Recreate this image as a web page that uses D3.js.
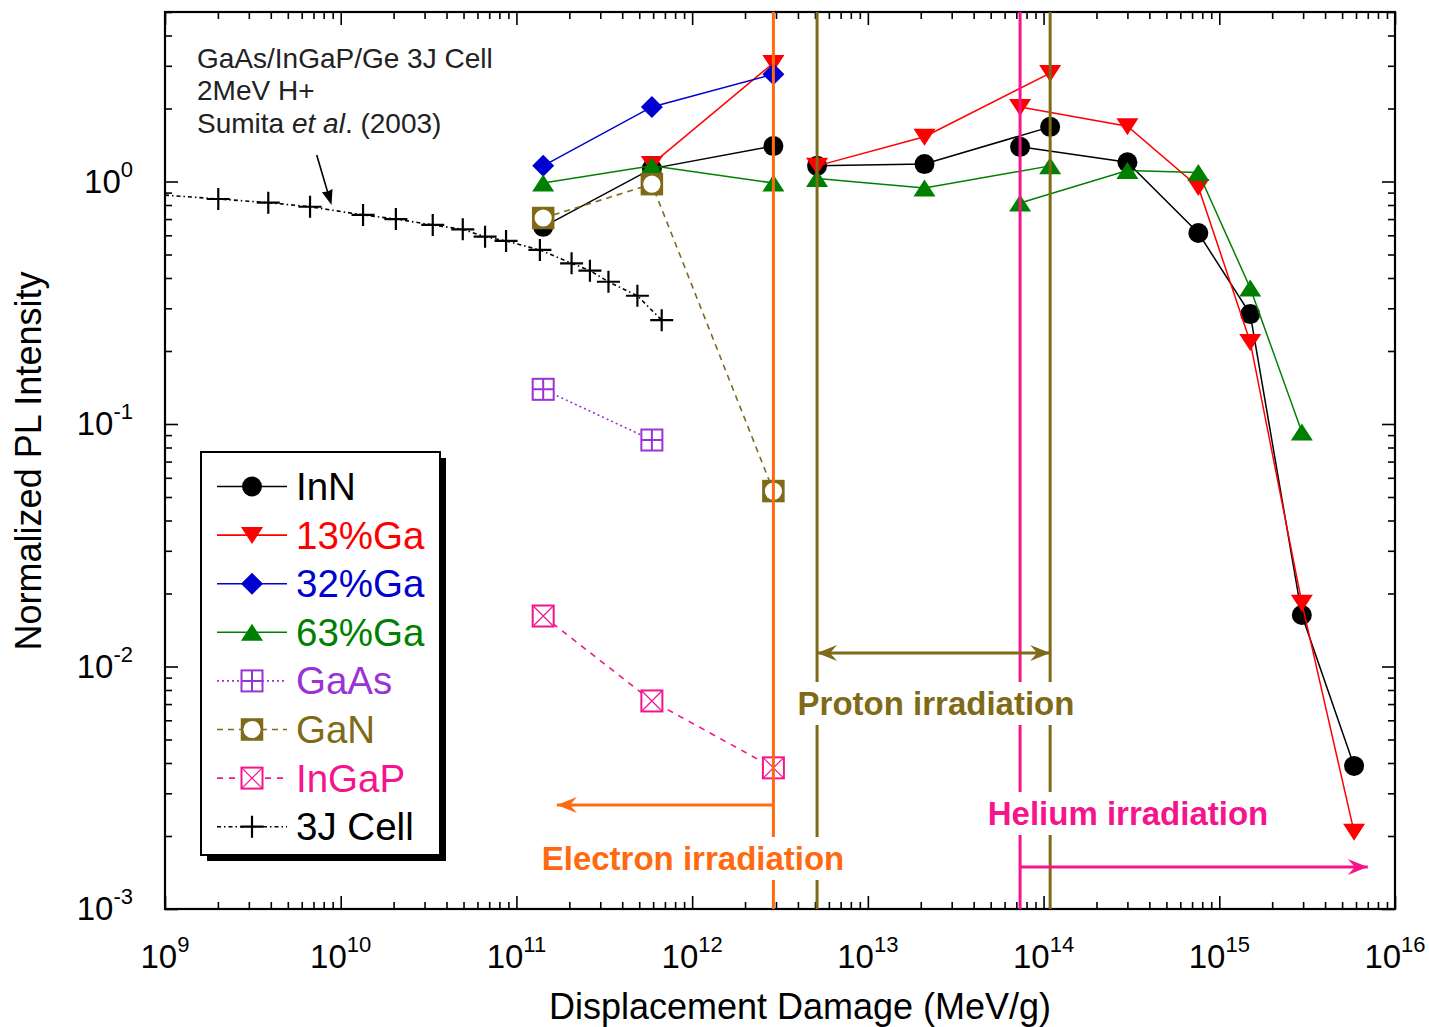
<!DOCTYPE html>
<html><head><meta charset="utf-8">
<script src="https://cdn.jsdelivr.net/npm/d3@7"></script>
<style>body{margin:0;background:#fff} svg{display:block} text{font-family:"Liberation Sans",Arial,sans-serif}</style>
</head><body><svg id="c" width="1429" height="1027"></svg>
<script>
// ---------- data ----------
const xExponents = [9, 10, 11, 12, 13, 14, 15, 16];
const yExponents = [-3, -2, -1, 0];

const electronX = [1.42e11, 5.9e11, 2.9e12];
const protonX   = [5.14e12, 2.1e13, 1.09e14];
const heliumX   = [7.35e13, 3.0e14, 7.6e14, 1.5e15, 2.95e15, 5.85e15];

const inN_e   = [0.65, 1.13, 1.40];
const inN_p   = [1.16, 1.18, 1.68];
const inN_he  = [1.39, 1.20, 0.613, 0.284, 0.0163, 0.00389];
const ga13_e  = [null, 1.18, 3.08];
const ga13_p  = [1.16, 1.53, 2.80];
const ga13_he = [2.03, 1.69, 0.949, 0.218, 0.0183, 0.00208];
const ga32_e  = [1.16, 2.03, 2.77];
const ga63_e  = [0.986, 1.16, 0.986];
const ga63_p  = [1.03, 0.94, 1.16];
const ga63_he = [0.815, 1.11, 1.09, 0.364, 0.0927, null];
const gaAs_e  = [0.139, 0.0859, null];
const gaN_e   = [0.707, 0.975, 0.0529];
const inGaP_e = [0.01615, 0.00721, 0.00382];

const cellX = [1e9, 2.01e9, 3.87e9, 6.69e9, 1.34e10, 2.06e10, 3.34e10, 4.95e10, 6.63e10, 8.73e10,
               1.36e11, 2.06e11, 2.62e11, 3.34e11, 4.88e11, 6.71e11];
const cellY = [0.879, 0.847, 0.818, 0.787, 0.728, 0.700, 0.662, 0.635, 0.592, 0.569,
               0.522, 0.460, 0.429, 0.386, 0.338, 0.268];

const seriesNames = ["InN", "13%Ga", "32%Ga", "63%Ga", "GaAs", "GaN", "InGaP", "3J Cell"];

// irradiation boundaries
const electronLimit = 2.9e12, electronArrowTip = 1.7e11;
const protonLow = 5.14e12, protonHigh = 1.09e14;
const heliumLow = 7.35e13, heliumArrowTip = 7.0e15;

// ---------- styles ----------
const C = {black:"#000", red:"#ff0000", blue:"#0000d0", green:"#008000", purple:"#9a33d6",
           olive:"#7f6a18", pink:"#f5148c", orange:"#ff6a10"};

const series = [
  {name:"InN", color:C.black, marker:"circle", dash:null, segs:[[electronX,inN_e],[protonX,inN_p],[heliumX,inN_he]]},
  {name:"13%Ga", color:C.red, marker:"down", dash:null, segs:[[electronX,ga13_e],[protonX,ga13_p],[heliumX,ga13_he]]},
  {name:"32%Ga", color:C.blue, marker:"diamond", dash:null, segs:[[electronX,ga32_e]]},
  {name:"63%Ga", color:C.green, marker:"up", dash:null, segs:[[electronX,ga63_e],[protonX,ga63_p],[heliumX,ga63_he]]},
  {name:"GaAs", color:C.purple, marker:"sqplus", dash:"2,3", segs:[[electronX,gaAs_e]]},
  {name:"GaN", color:C.olive, marker:"sqcircle", dash:"6,5", segs:[[electronX,gaN_e]]},
  {name:"InGaP", color:C.pink, marker:"sqx", dash:"6,6", segs:[[electronX,inGaP_e]]},
  {name:"3J Cell", color:C.black, marker:"plus", dash:"4,3,1.5,3", segs:[[cellX,cellY]], skipFirst:true}
];

// ---------- layout ----------
const svg = d3.select("#c");
const L = 165, R = 1395, T = 12, B = 909;
const x = d3.scaleLog().domain([1e9, 1e16]).range([L, R]);
const y = d3.scaleLog().domain([1e-3, 5]).range([B, T]);

const majorX = xExponents.map(e => Math.pow(10, e));
const minorX = [];
xExponents.slice(0, -1).forEach(e => { for (let k = 2; k <= 9; k++) minorX.push(k * Math.pow(10, e)); });
const majorY = yExponents.map(e => Math.pow(10, e));
const minorY = [];
yExponents.forEach(e => { for (let k = 2; k <= 9; k++) { const v = k * Math.pow(10, e); if (v <= 5) minorY.push(v); } });

function styleAxis(g) {
  g.select(".domain").remove();
  g.selectAll(".tick line").attr("stroke", "#000").attr("stroke-width", 1.6);
  g.selectAll(".tick text").remove();
}
svg.append("g").attr("transform", `translate(0,${B})`).call(d3.axisBottom(x).tickValues(majorX).tickSize(-13)).call(styleAxis);
svg.append("g").attr("transform", `translate(0,${B})`).call(d3.axisBottom(x).tickValues(minorX).tickSize(-7)).call(styleAxis);
svg.append("g").attr("transform", `translate(0,${T})`).call(d3.axisTop(x).tickValues(majorX).tickSize(-13)).call(styleAxis);
svg.append("g").attr("transform", `translate(0,${T})`).call(d3.axisTop(x).tickValues(minorX).tickSize(-7)).call(styleAxis);
svg.append("g").attr("transform", `translate(${L},0)`).call(d3.axisLeft(y).tickValues(majorY).tickSize(-13)).call(styleAxis);
svg.append("g").attr("transform", `translate(${L},0)`).call(d3.axisLeft(y).tickValues(minorY).tickSize(-7)).call(styleAxis);
svg.append("g").attr("transform", `translate(${R},0)`).call(d3.axisRight(y).tickValues(majorY).tickSize(-13)).call(styleAxis);
svg.append("g").attr("transform", `translate(${R},0)`).call(d3.axisRight(y).tickValues(minorY).tickSize(-7)).call(styleAxis);

svg.append("rect").attr("x", L).attr("y", T).attr("width", R - L).attr("height", B - T)
  .attr("fill", "none").attr("stroke", "#000").attr("stroke-width", 2.2);

// tick labels
xExponents.forEach(e => {
  const t = svg.append("text").attr("x", x(Math.pow(10, e))).attr("y", 968)
    .attr("text-anchor", "middle").attr("font-size", 33).attr("fill", "#000");
  t.append("tspan").text("10");
  t.append("tspan").attr("font-size", 22).attr("dy", -16).text(String(e));
});
yExponents.forEach(e => {
  const t = svg.append("text").attr("x", 133).attr("y", y(Math.pow(10, e)) + 11)
    .attr("text-anchor", "end").attr("font-size", 33).attr("fill", "#000");
  t.append("tspan").text("10");
  t.append("tspan").attr("font-size", 22).attr("dy", -16).text(String(e));
});

// axis titles
svg.append("text").attr("x", 800).attr("y", 1019).attr("text-anchor", "middle")
  .attr("font-size", 36).text("Displacement Damage (MeV/g)");
svg.append("text").attr("transform", "translate(41,461) rotate(-90)").attr("text-anchor", "middle")
  .attr("font-size", 36).text("Normalized PL Intensity");

// ---------- markers ----------
function drawMarker(g, type, color, cx, cy) {
  const m = g.append("g").attr("transform", `translate(${cx},${cy})`);
  switch (type) {
    case "circle": m.append("circle").attr("r", 10).attr("fill", color); break;
    case "down": m.append("path").attr("d", "M-11,-8L11,-8L0,9Z").attr("fill", color); break;
    case "up": m.append("path").attr("d", "M-11,8.5L11,8.5L0,-8.5Z").attr("fill", color); break;
    case "diamond": m.append("path").attr("d", "M0,-11L11,0L0,11L-11,0Z").attr("fill", color); break;
    case "sqplus":
      m.append("rect").attr("x", -10.5).attr("y", -10.5).attr("width", 21).attr("height", 21)
        .attr("fill", "#fff").attr("stroke", color).attr("stroke-width", 2);
      m.append("path").attr("d", "M0,-10.5V10.5M-10.5,0H10.5").attr("stroke", color).attr("stroke-width", 2);
      break;
    case "sqx":
      m.append("rect").attr("x", -10.5).attr("y", -10.5).attr("width", 21).attr("height", 21)
        .attr("fill", "#fff").attr("stroke", color).attr("stroke-width", 2);
      m.append("path").attr("d", "M-10.5,-10.5L10.5,10.5M10.5,-10.5L-10.5,10.5").attr("stroke", color).attr("stroke-width", 1.2);
      break;
    case "sqcircle":
      m.append("rect").attr("x", -10.5).attr("y", -10.5).attr("width", 21).attr("height", 21)
        .attr("fill", color).attr("stroke", color).attr("stroke-width", 1.5);
      m.append("circle").attr("r", 8.6).attr("fill", "#fff");
      break;
    case "plus":
      m.append("path").attr("d", "M0,-11V11M-11.5,0H11.5").attr("stroke", color).attr("stroke-width", 2.2);
      break;
  }
}

// ---------- series ----------
const line = d3.line().defined(d => d[1] != null).x(d => x(d[0])).y(d => y(d[1]));
const dataG = svg.append("g");
series.forEach(s => {
  s.segs.forEach(([xs, ys]) => {
    const pts = xs.map((v, i) => [v, ys[i]]);
    dataG.append("path").datum(pts).attr("d", line).attr("fill", "none")
      .attr("stroke", s.color).attr("stroke-width", s.dash ? 1.6 : 1.5)
      .attr("stroke-dasharray", s.dash);
  });
  s.segs.forEach(([xs, ys]) => {
    xs.forEach((v, i) => {
      if (ys[i] == null) return;
      if (s.skipFirst && i === 0) return;
      drawMarker(dataG, s.marker, s.color, x(v), y(ys[i]));
    });
  });
});

// annotation for 3J cell
svg.append("text").attr("x", 197).attr("y", 68).attr("font-size", 28).attr("fill", "#222").text("GaAs/InGaP/Ge 3J Cell");
svg.append("text").attr("x", 197).attr("y", 100).attr("font-size", 28).attr("fill", "#222").text("2MeV H+");
const st = svg.append("text").attr("x", 197).attr("y", 133).attr("font-size", 28).attr("fill", "#222");
st.append("tspan").text("Sumita ");
st.append("tspan").attr("font-style", "italic").text("et al");
st.append("tspan").text(". (2003)");

function arrowHead(g, x0, y0, x1, y1, color, len, half, notch) {
  const a = Math.atan2(y1 - y0, x1 - x0) * 180 / Math.PI;
  g.append("path").attr("d", `M0,0L${-len},${-half}L${-len + notch},0L${-len},${half}Z`)
    .attr("fill", color).attr("transform", `translate(${x1},${y1}) rotate(${a})`);
}
{
  const x0 = 316.7, y0 = 155, x1 = 331.5, y1 = 205;
  svg.append("line").attr("x1", x0).attr("y1", y0).attr("x2", x1 - 3).attr("y2", y1 - 10)
    .attr("stroke", "#000").attr("stroke-width", 1.6);
  arrowHead(svg, x0, y0, x1, y1, "#000", 15, 5.5, 1);
}

// ---------- irradiation annotations ----------
const annG = svg.append("g");
function vline(xv, color) {
  annG.append("line").attr("x1", x(xv)).attr("x2", x(xv)).attr("y1", T).attr("y2", B)
    .attr("stroke", color).attr("stroke-width", 3);
}
vline(electronLimit, C.orange);
vline(protonLow, C.olive);
vline(protonHigh, C.olive);
vline(heliumLow, C.pink);

function hArrow(xa, xb, yy, color, both) {
  annG.append("line").attr("x1", x(xa)).attr("x2", x(xb)).attr("y1", yy).attr("y2", yy)
    .attr("stroke", color).attr("stroke-width", 3);
  arrowHead(annG, x(xa), yy, x(xb), yy, color, 20, 8, 7);
  if (both) arrowHead(annG, x(xb), yy, x(xa), yy, color, 20, 8, 7);
}
hArrow(electronLimit, electronArrowTip, 805, C.orange, false);
hArrow(protonLow, protonHigh, 653, C.olive, true);
hArrow(heliumLow, heliumArrowTip, 867, C.pink, false);

function label(txt, cx, base, color) {
  const g = annG.append("g");
  const bg = g.append("rect").attr("fill", "#fff");
  const t = g.append("text").attr("x", cx).attr("y", base).attr("text-anchor", "middle")
    .attr("font-size", 33).attr("font-weight", "bold").attr("fill", color).text(txt);
  const bb = t.node().getBBox();
  bg.attr("x", bb.x - 2).attr("y", bb.y - 3).attr("width", bb.width + 4).attr("height", bb.height + 6);
}
label("Electron irradiation", 693, 870, C.orange);
label("Proton irradiation", 936, 715, C.olive);
label("Helium irradiation", 1128, 825, C.pink);

// ---------- legend ----------
const lg = svg.append("g");
lg.append("rect").attr("x", 207).attr("y", 458).attr("width", 239).attr("height", 403).attr("fill", "#000");
lg.append("rect").attr("x", 201).attr("y", 452).attr("width", 239).attr("height", 403)
  .attr("fill", "#fff").attr("stroke", "#000").attr("stroke-width", 2);
series.forEach((s, i) => {
  const yy = 486.5 + i * 48.6;
  lg.append("line").attr("x1", 217).attr("x2", 287).attr("y1", yy).attr("y2", yy)
    .attr("stroke", s.color).attr("stroke-width", 1.6).attr("stroke-dasharray", s.dash);
  drawMarker(lg, s.marker, s.color, 252, yy);
  lg.append("text").attr("x", 296).attr("y", yy + 13.5).attr("font-size", 38.5)
    .attr("fill", s.color).text(seriesNames[i]);
});
</script></body></html>
